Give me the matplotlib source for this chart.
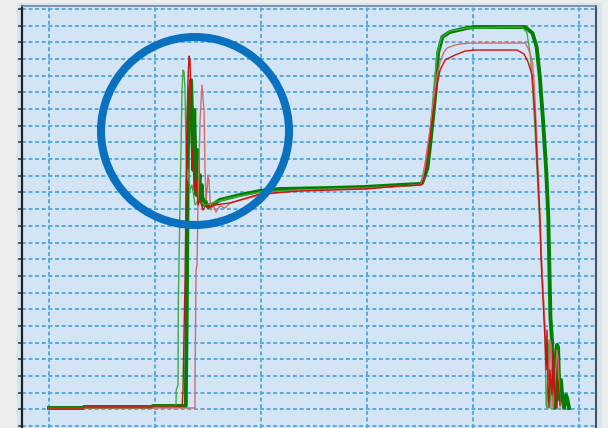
import matplotlib
matplotlib.use("Agg")
import matplotlib.pyplot as plt
from matplotlib.patches import Circle, Rectangle

# Werte (x: Zeit, y: Messwert)
x_dick = [0, 3.2, 3.3, 9.7, 9.8, 12.9, 13.0, 13.1, 13.2, 13.4, 13.5, 13.6, 13.7, 13.8, 13.9, 14.0, 14.1, 14.2,
          14.25, 14.4, 14.5, 14.7, 15.0, 15.4, 16.1, 18.0, 19.9, 21.8, 26.5, 29.8, 33.1, 35.0, 35.2, 35.7, 35.9,
          36.2, 36.5, 36.7, 37.1, 37.8, 39.4, 40.2, 44.9, 45.6, 46.0, 46.3, 46.6, 46.9, 47.1, 47.2, 47.3, 47.45,
          47.64, 47.74, 47.83, 47.92, 48.02, 48.11, 48.21, 48.3, 48.4, 48.58, 48.77, 48.87, 49.06]
y_dick = [10.8, 10.8, 11.4, 11.4, 12.0, 12.0, 75.5, 165.5, 195.4, 207.4, 183.5, 153.5, 189.4, 159.5, 138.5, 165.5,
          141.5, 150.5, 135.5, 144.5, 132.5, 135.5, 131.3, 132.5, 135.5, 138.5, 140.9, 142.1, 142.7, 143.3, 144.5,
          145.1, 145.7, 154.7, 165.5, 183.5, 203.2, 223.6, 233.2, 236.2, 238.6, 239.2, 239.2, 235.6, 227.2, 209.2,
          183.5, 153.5, 125.3, 95.3, 65.3, 51.6, 18.6, 10.8, 39.6, 48.6, 47.4, 27.6, 15.6, 27.6, 18.6, 10.8, 18.6,
          16.8, 10.8]

x_gruen = [0, 3.2, 3.3, 9.7, 9.8, 11.98, 12.0, 12.17, 12.2, 12.36, 12.55, 12.64, 12.74, 12.83, 12.92, 13.02,
           13.11, 13.3, 13.49, 13.77, 14.06, 14.72, 15.38, 17.08, 19.91, 23.68, 29.81, 33.11, 35.0, 35.09, 35.47,
           35.85, 36.13, 36.32, 36.6, 36.98, 37.83, 39.43, 44.43, 44.62, 45.09, 45.38, 45.57, 45.85, 46.13, 46.32,
           46.6, 46.79, 46.85, 46.89, 46.98, 47.08, 47.17, 47.26, 47.36]
y_gruen = [10.8, 10.8, 11.4, 11.4, 12.0, 12.0, 21.6, 24.6, 75.5, 135.5, 201.4, 213.4, 212.2, 201.4, 165.5, 147.5,
           153.5, 141.5, 144.5, 132.5, 135.5, 132.5, 133.7, 136.7, 140.3, 141.5, 142.7, 143.9, 144.5, 145.1, 156.5,
           171.5, 189.4, 204.4, 222.4, 232.6, 236.8, 238.6, 239.2, 239.2, 235.6, 223.6, 207.4, 177.5, 141.5, 117.5,
           81.5, 57.6, 33.6, 12.6, 10.8, 39.6, 51.6, 27.6, 10.8]

x_rot_hell = [0, 12.64, 13.77, 13.77, 13.87, 13.96, 14.06, 14.25, 14.43, 14.62, 14.72, 14.81, 14.91, 15.0, 15.09,
              15.19, 15.28, 15.47, 15.75, 16.13, 16.6, 17.08, 19.91, 23.68, 29.81, 33.11, 35.0, 35.19, 35.38, 35.66,
              35.94, 36.23, 36.51, 36.89, 37.26, 37.55, 38.3, 38.77, 39.72, 44.91, 45.19, 45.57, 45.75, 45.94, 46.13,
              46.32, 46.51, 46.7, 46.89, 47.08, 47.17, 47.26, 47.36, 47.45, 47.55, 47.74, 47.92, 48.02, 48.21]
y_rot_hell = [10.8, 10.8, 10.8, 24.6, 93.5, 96.5, 135.5, 183.5, 204.4, 189.4, 153.5, 135.5, 141.5, 150.5, 147.5,
              135.5, 129.5, 132.5, 128.3, 131.9, 130.7, 133.7, 138.5, 141.5, 142.1, 143.9, 144.5, 145.1, 153.5, 165.5,
              177.5, 192.4, 207.4, 218.2, 224.2, 226.6, 228.4, 229.0, 229.6, 229.6, 226.6, 219.4, 207.4, 183.5, 153.5,
              123.5, 93.5, 69.5, 48.6, 36.6, 27.6, 51.6, 48.6, 15.6, 10.8, 27.6, 45.6, 39.6, 10.8]

x_rot = [0, 3.2, 3.3, 9.7, 9.8, 12.55, 12.64, 12.74, 12.83, 12.92, 13.02, 13.11, 13.21, 13.3, 13.4, 13.49, 13.58,
         13.68, 13.87, 14.06, 14.25, 14.53, 14.81, 15.19, 15.66, 17.08, 19.91, 23.68, 29.81, 33.11, 35.0, 35.19,
         35.47, 35.75, 36.04, 36.32, 36.6, 36.89, 37.36, 38.3, 39.25, 40.19, 44.15, 44.81, 45.19, 45.57, 45.85,
         46.04, 46.32, 46.42, 46.6, 46.79, 46.89, 46.98, 47.08, 47.17, 47.26, 47.45, 47.55, 47.74, 47.92, 48.02, 48.21]
y_rot = [10.8, 10.8, 11.4, 11.4, 12.0, 12.0, 21.6, 57.6, 87.5, 135.5, 183.5, 207.4, 221.8, 219.4, 189.4, 153.5,
         165.5, 141.5, 147.5, 132.5, 135.5, 129.5, 132.5, 131.3, 132.5, 133.7, 139.1, 140.9, 142.1, 143.9, 144.5,
         145.1, 150.5, 162.5, 177.5, 192.4, 204.4, 213.4, 219.4, 222.4, 224.8, 225.4, 225.4, 223.0, 218.2, 210.4,
         186.5, 159.5, 123.5, 99.5, 75.5, 51.6, 33.6, 57.6, 21.6, 10.8, 33.6, 18.6, 45.6, 15.6, 10.8, 27.6, 12.6]

fig = plt.figure(figsize=(6.08, 4.28), dpi=100)
fig.patch.set_facecolor('#eceeed')

# hellblaue Fläche hinter dem Diagramm
fig.patches.append(Rectangle((17 / 608, 0), 585 / 608, 425 / 428, transform=fig.transFigure,
                             facecolor='#d3e5f5', edgecolor='none', zorder=-1))

ax = fig.add_axes([22 / 608, 0, 574 / 608, 422 / 428])
ax.set_facecolor('#d3e5f5')

ax.plot(x_dick, y_dick, color='#008000', lw=2.8, zorder=3)
ax.plot(x_gruen, y_gruen, color='#45a845', lw=1.0, zorder=4)
ax.plot(x_rot_hell, y_rot_hell, color='#d86a6a', lw=1.0, zorder=4)
ax.plot(x_rot, y_rot, color='#cc1010', lw=1.0, zorder=5)

ax.set_xlim(-2.55, 51.6)
ax.set_ylim(-1.2, 251.8)
ax.set_xticks(range(0, 51, 10))
ax.set_yticks(range(0, 251, 10))
ax.grid(True, color='#55aae0', linestyle=(0, (2, 1.4)), lw=1.4)
ax.set_axisbelow(True)
ax.tick_params(axis='y', direction='out', length=3, width=1.1, color='#333333', labelleft=False)
ax.tick_params(axis='x', length=0, labelbottom=False)

ax.spines['bottom'].set_visible(False)
ax.spines['left'].set_color('#222222')
ax.spines['left'].set_linewidth(1.6)
ax.spines['top'].set_color('#7a8590')
ax.spines['top'].set_linewidth(1.2)
ax.spines['right'].set_color('#4a5058')
ax.spines['right'].set_linewidth(1.5)

# blauer Kreis als Markierung
kreis = Circle((1.95, 4.28 - 1.31), 0.94, transform=fig.dpi_scale_trans, fill=False,
               edgecolor='#0a70c0', lw=5.8, zorder=10)
fig.patches.append(kreis)

plt.savefig('out.png', dpi=100, facecolor=fig.get_facecolor())
